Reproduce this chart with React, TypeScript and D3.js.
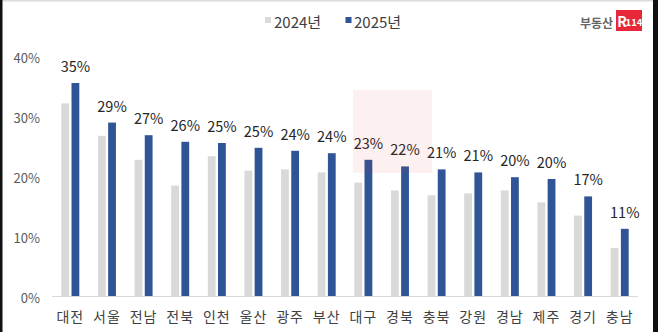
import React from "react";
import * as d3 from "d3";

const categories = ["대전", "서울", "전남", "전북", "인천", "울산", "광주", "부산", "대구", "경북", "충북", "강원", "경남", "제주", "경기", "충남"];
const values2024 = [32.1, 26.7, 22.7, 18.4, 23.3, 20.9, 21.1, 20.6, 18.9, 17.6, 16.8, 17.1, 17.6, 15.6, 13.4, 8.0];
const values2025 = [35.5, 28.9, 26.8, 25.7, 25.5, 24.7, 24.2, 23.8, 22.7, 21.6, 21.1, 20.6, 19.8, 19.5, 16.6, 11.2];
const labels2025 = ["35%", "29%", "27%", "26%", "25%", "25%", "24%", "24%", "23%", "22%", "21%", "21%", "20%", "20%", "17%", "11%"];
const yTicks = [0, 10, 20, 30, 40];
const seriesNames = ["2024년", "2025년"];

const W = 658;
const H = 332;
const FONT = "'Noto Sans CJK KR', 'Noto Sans', sans-serif";
const GREY = "#d9d9d9";
const BLUE = "#2f5597";

export default function App() {
  const x = d3.scaleBand<string>().domain(categories).range([52, 638]).padding(0);
  const y = d3.scaleLinear().domain([0, 40]).range([296, 56]);
  const bw = 7.8;
  const gap = 1.2;

  return (
    <svg
      width={W}
      height={H}
      viewBox={`0 0 ${W} ${H}`}
      style={{ position: "fixed", left: 0, top: 0, display: "block", background: "#fff" }}
      fontFamily={FONT}
    >
      <rect x={0} y={0} width={W} height={H} fill="#fff" />

      {/* y tick labels */}
      {yTicks.map((t) => (
        <text key={t} x={40} y={y(t) + 7} textAnchor="end" fontSize={13} fill="#595959">
          {t}%
        </text>
      ))}

      {/* baseline */}
      <line x1={52} x2={638} y1={y(0) + 0.5} y2={y(0) + 0.5} stroke="#d9d9d9" strokeWidth={1} />

      {/* bars */}
      {categories.map((c, i) => {
        const cx = (x(c) as number) + x.bandwidth() / 2;
        return (
          <g key={c}>
            <rect x={cx - gap - bw} y={y(values2024[i])} width={bw} height={y(0) - y(values2024[i])} fill={GREY} />
            <rect x={cx + gap} y={y(values2025[i])} width={bw} height={y(0) - y(values2025[i])} fill={BLUE} />
            <text x={cx + gap + bw / 2} y={y(values2025[i]) - 11} textAnchor="middle" fontSize={14.5} fill="#262626">
              {labels2025[i]}
            </text>
            <text x={cx} y={322} textAnchor="middle" fontSize={14} fill="#404040" letterSpacing={1}>
              {c}
            </text>
          </g>
        );
      })}

      {/* faint watermark block */}
      <rect x={353} y={90} width={79} height={83} fill="#e8303a" opacity={0.07} />

      {/* legend */}
      <rect x={265} y={17} width={6} height={6} fill={GREY} />
      <text x={274} y={28} fontSize={15} fill="#404040">{seriesNames[0]}</text>
      <rect x={345.5} y={17} width={6} height={6} fill={BLUE} />
      <text x={354} y={28} fontSize={15} fill="#404040">{seriesNames[1]}</text>

      {/* logo */}
      <text x={613} y={27.5} fontSize={12} fontWeight={700} fill="#666" textAnchor="end">부동산</text>
      <rect x={616} y={10} width={26} height={21} fill="#e8283a" />
      <text x={622} y={26.5} fontSize={14} fontWeight={700} fill="#fff" textAnchor="middle">R</text>
      <text x={634} y={26} fontSize={9.5} fontWeight={700} fill="#fff" textAnchor="middle">114</text>

      {/* frame edges */}
      <rect x={0} y={0} width={W} height={1.5} fill="#dcdcdc" />
      <rect x={0} y={0} width={2.5} height={H} fill="#111" />
      <rect x={653} y={0} width={5} height={H} fill="#111" />
    </svg>
  );
}
